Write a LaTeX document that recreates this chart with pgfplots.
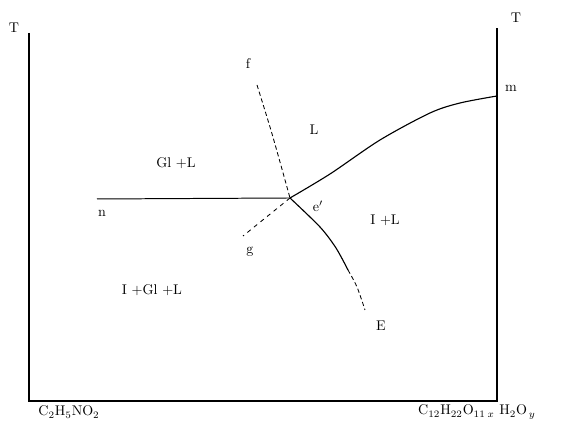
\documentclass[border=0pt]{standalone}
\usepackage{pgfplots}
\pgfplotsset{compat=1.18}
\begin{document}
\begin{tikzpicture}
\begin{axis}[
  width=14.05cm, height=10.75cm,
  scale only axis,
  xmin=0, xmax=562, ymin=0, ymax=430,
  hide axis,
  clip=false,
  every node/.style={font=\normalsize\bfseries},
]
% keeps the whole canvas in the bounding box
\addplot[draw=none] coordinates {(0,0) (562,430)};
% frame
\addplot[black, line width=1.6pt] coordinates {(29,397) (29,29) (497,29) (497,402)};
% n -- e'
\addplot[black, line width=0.7pt] coordinates {(97,231) (290,232)};
% e' -- m (liquidus)
\addplot[black, line width=0.8pt, smooth] coordinates {(290,232) (330,256) (380,290) (430,317) (460,327) (497,334)};
% f dashed
\addplot[black, line width=0.6pt, densely dashed, smooth] coordinates {(257,345) (270,303) (280,268) (290,232)};
% g dashed
\addplot[black, line width=0.6pt, dashed] coordinates {(290,232) (243,194)};
% e' -- E
\addplot[black, line width=0.8pt, smooth] coordinates {(290,232) (320,203) (336,182) (348,160)};
\addplot[black, line width=0.6pt, densely dashed, smooth] coordinates {(348,160) (357,143) (365,120)};
% labels
\node at (axis cs:14,402) {T};
\node at (axis cs:516,412) {T};
\node at (axis cs:511,342) {m};
\node at (axis cs:248,366) {f};
\node at (axis cs:314,300) {L};
\node at (axis cs:176,267) {Gl +L};
\node at (axis cs:102,217) {n};
\node at (axis cs:318,224) {e$'$};
\node at (axis cs:385,210) {I +L};
\node at (axis cs:250,178) {g};
\node at (axis cs:152,140) {I +Gl +L};
\node at (axis cs:381,104) {E};
\node at (axis cs:69,18) {C$_2$H$_5$NO$_2$};
\node at (axis cs:477,18) {C$_{12}$H$_{22}$O$_{11}$$_{\,x}$ H$_2$O$_{\,y}$};
\end{axis}
\end{tikzpicture}
\end{document}
